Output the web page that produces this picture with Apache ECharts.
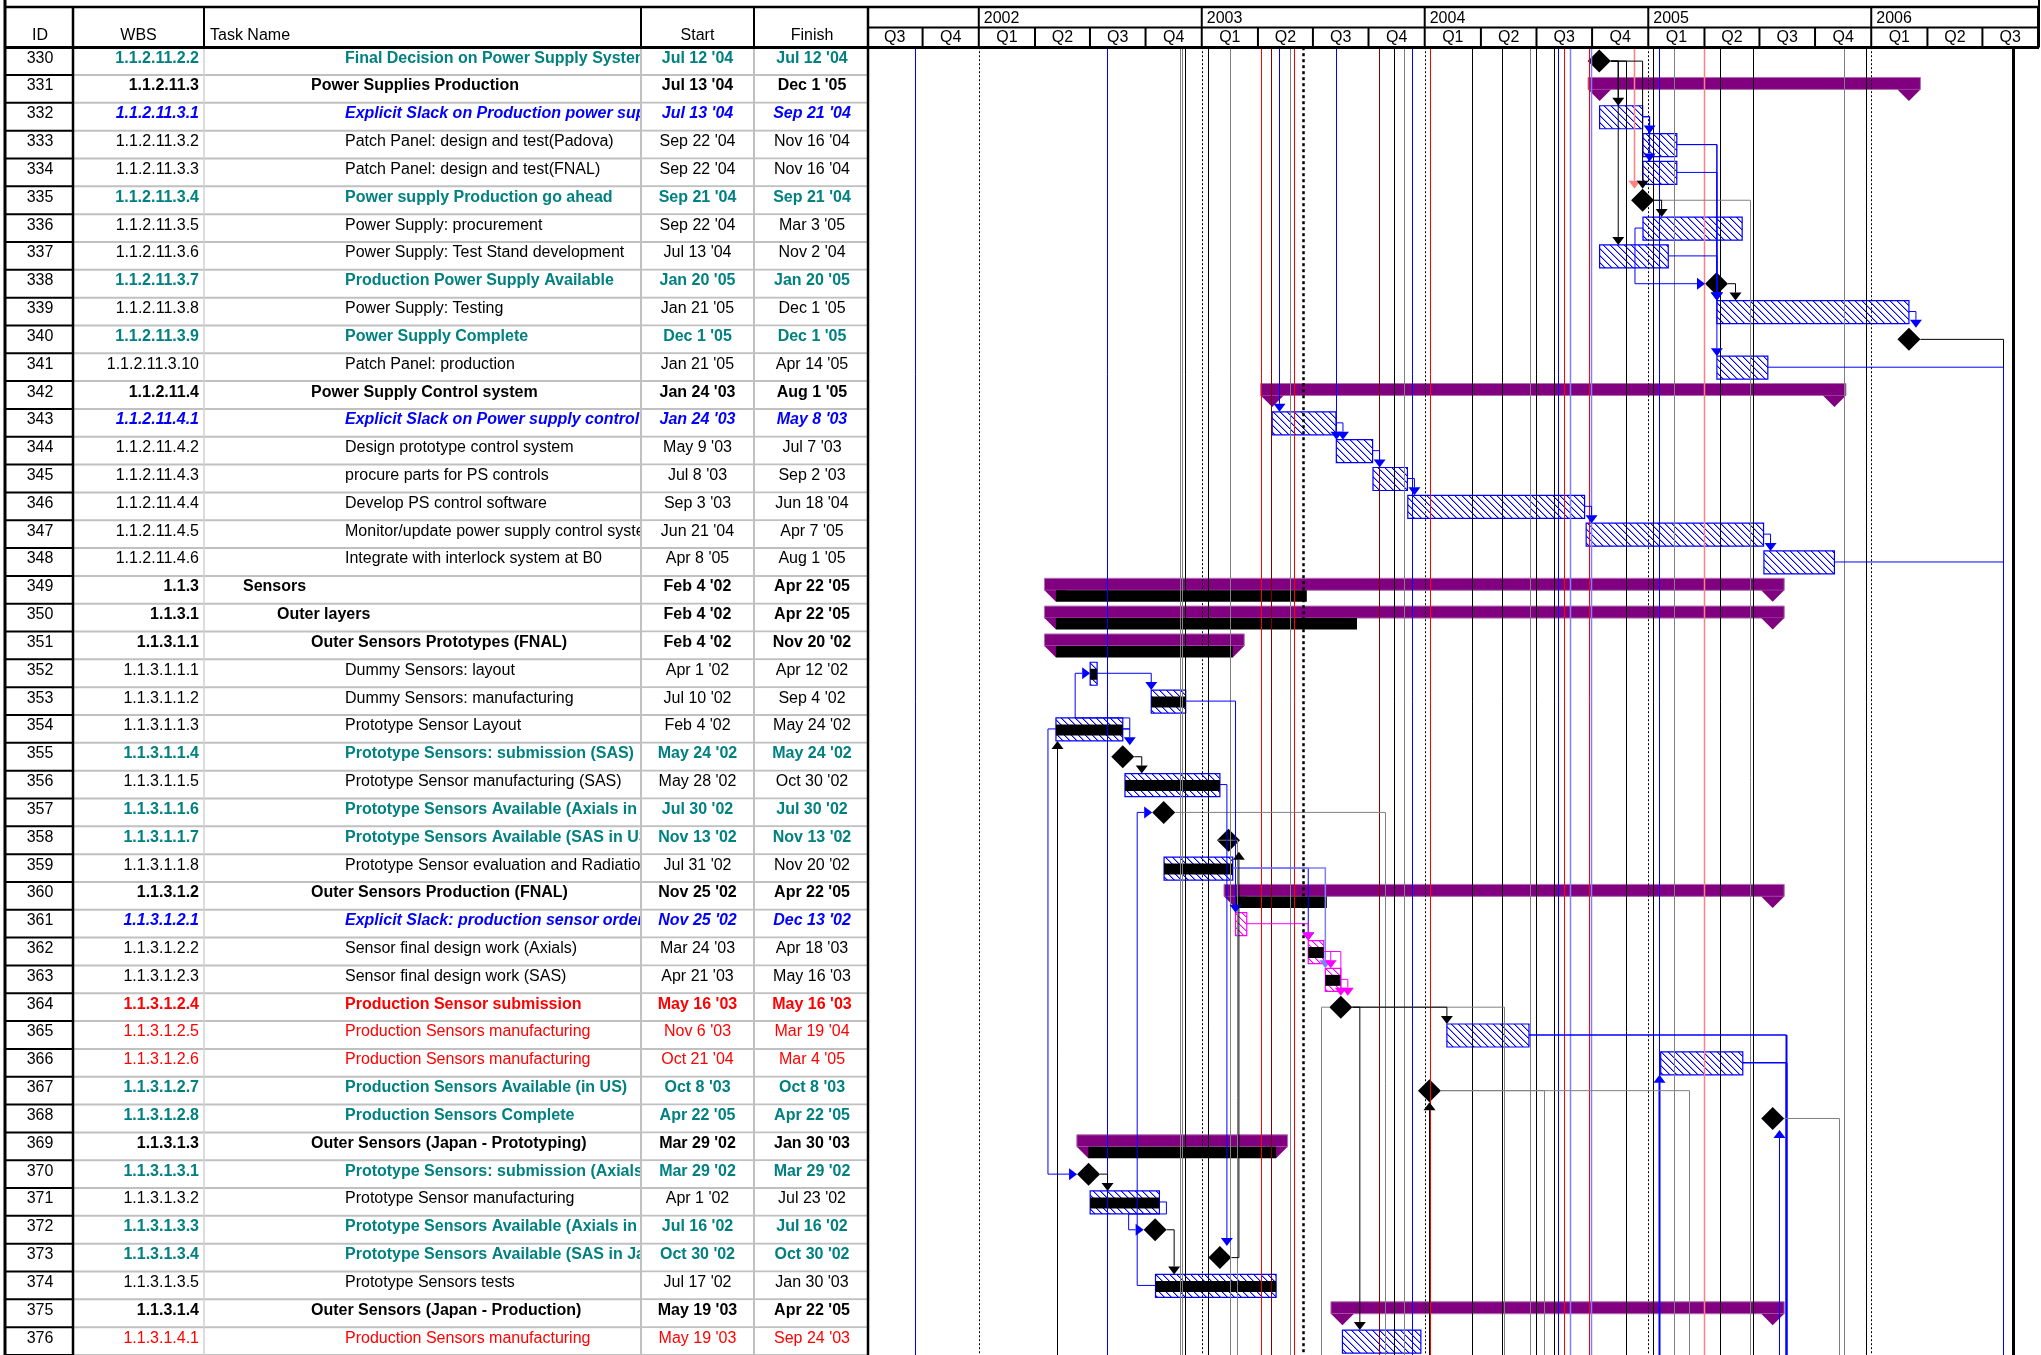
<!DOCTYPE html>
<html><head><meta charset="utf-8">
<script src="https://cdn.jsdelivr.net/npm/echarts@6/dist/echarts.min.js"></script>
<style>html,body{margin:0;padding:0;background:#fff}#c{width:2041px;height:1355px}</style>
</head><body><div id="c"></div>
<script>
// ---------------- DATA ----------------
const rowIds = [330,331,332,333,334,335,336,337,338,339,340,341,342,343,344,345,346,347,348,349,350,351,352,353,354,355,356,357,358,359,360,361,362,363,364,365,366,367,368,369,370,371,372,373,374,375,376];
const wbsCodes = ['1.1.2.11.2.2','1.1.2.11.3','1.1.2.11.3.1','1.1.2.11.3.2','1.1.2.11.3.3','1.1.2.11.3.4','1.1.2.11.3.5','1.1.2.11.3.6','1.1.2.11.3.7','1.1.2.11.3.8','1.1.2.11.3.9','1.1.2.11.3.10','1.1.2.11.4','1.1.2.11.4.1','1.1.2.11.4.2','1.1.2.11.4.3','1.1.2.11.4.4','1.1.2.11.4.5','1.1.2.11.4.6','1.1.3','1.1.3.1','1.1.3.1.1','1.1.3.1.1.1','1.1.3.1.1.2','1.1.3.1.1.3','1.1.3.1.1.4','1.1.3.1.1.5','1.1.3.1.1.6','1.1.3.1.1.7','1.1.3.1.1.8','1.1.3.1.2','1.1.3.1.2.1','1.1.3.1.2.2','1.1.3.1.2.3','1.1.3.1.2.4','1.1.3.1.2.5','1.1.3.1.2.6','1.1.3.1.2.7','1.1.3.1.2.8','1.1.3.1.3','1.1.3.1.3.1','1.1.3.1.3.2','1.1.3.1.3.3','1.1.3.1.3.4','1.1.3.1.3.5','1.1.3.1.4','1.1.3.1.4.1'];
const taskNames = ['Final Decision on Power Supply System','Power Supplies Production','Explicit Slack on Production power supply','Patch Panel: design and test(Padova)','Patch Panel: design and test(FNAL)','Power supply Production go ahead','Power Supply: procurement','Power Supply: Test Stand development','Production Power Supply Available','Power Supply: Testing','Power Supply Complete','Patch Panel: production','Power Supply Control system','Explicit Slack on Power supply control','Design prototype control system','procure parts for PS controls','Develop PS control software','Monitor/update power supply control system','Integrate with interlock system at B0','Sensors','Outer layers','Outer Sensors Prototypes (FNAL)','Dummy Sensors: layout','Dummy Sensors: manufacturing','Prototype Sensor Layout','Prototype Sensors: submission (SAS)','Prototype Sensor manufacturing (SAS)','Prototype Sensors Available (Axials in US)','Prototype Sensors Available (SAS in US)','Prototype Sensor evaluation and Radiation','Outer Sensors Production (FNAL)','Explicit Slack: production sensor order','Sensor final design work (Axials)','Sensor final design work (SAS)','Production Sensor submission','Production Sensors manufacturing','Production Sensors manufacturing','Production Sensors Available (in US)','Production Sensors Complete','Outer Sensors (Japan - Prototyping)','Prototype Sensors: submission (Axials)','Prototype Sensor manufacturing','Prototype Sensors Available (Axials in Japan)','Prototype Sensors Available (SAS in Japan)','Prototype Sensors tests','Outer Sensors (Japan - Production)','Production Sensors manufacturing'];
const startText = ["Jul 12 '04","Jul 13 '04","Jul 13 '04","Sep 22 '04","Sep 22 '04","Sep 21 '04","Sep 22 '04","Jul 13 '04","Jan 20 '05","Jan 21 '05","Dec 1 '05","Jan 21 '05","Jan 24 '03","Jan 24 '03","May 9 '03","Jul 8 '03","Sep 3 '03","Jun 21 '04","Apr 8 '05","Feb 4 '02","Feb 4 '02","Feb 4 '02","Apr 1 '02","Jul 10 '02","Feb 4 '02","May 24 '02","May 28 '02","Jul 30 '02","Nov 13 '02","Jul 31 '02","Nov 25 '02","Nov 25 '02","Mar 24 '03","Apr 21 '03","May 16 '03","Nov 6 '03","Oct 21 '04","Oct 8 '03","Apr 22 '05","Mar 29 '02","Mar 29 '02","Apr 1 '02","Jul 16 '02","Oct 30 '02","Jul 17 '02","May 19 '03","May 19 '03"];
const finishText = ["Jul 12 '04","Dec 1 '05","Sep 21 '04","Nov 16 '04","Nov 16 '04","Sep 21 '04","Mar 3 '05","Nov 2 '04","Jan 20 '05","Dec 1 '05","Dec 1 '05","Apr 14 '05","Aug 1 '05","May 8 '03","Jul 7 '03","Sep 2 '03","Jun 18 '04","Apr 7 '05","Aug 1 '05","Apr 22 '05","Apr 22 '05","Nov 20 '02","Apr 12 '02","Sep 4 '02","May 24 '02","May 24 '02","Oct 30 '02","Jul 30 '02","Nov 13 '02","Nov 20 '02","Apr 22 '05","Dec 13 '02","Apr 18 '03","May 16 '03","May 16 '03","Mar 19 '04","Mar 4 '05","Oct 8 '03","Apr 22 '05","Jan 30 '03","Mar 29 '02","Jul 23 '02","Jul 16 '02","Oct 30 '02","Jan 30 '03","Apr 22 '05","Sep 24 '03"];
// t teal milestone, b bold summary, i blue italic slack, n normal, R red bold, r red
const textStyleKey = ['t','b','i','n','n','t','n','n','t','n','t','n','b','i','n','n','n','n','n','b','b','b','n','n','n','t','n','t','t','n','b','i','n','n','R','r','r','t','t','b','t','n','t','t','n','b','r'];
const percentComplete = [0,0,0,0,0,0,0,0,0,0,0,0,0,0,0,0,0,0,0,35,42,100,100,100,100,0,100,0,0,100,17,0,100,100,0,0,0,0,0,100,0,100,0,0,100,0,0];
const magentaRows = [361,362,363];

const yearLabels = ['','2002','2003','2004','2005','2006'];
const yearStarts = ['2001-04-01','2001-10-01','2002-10-01','2003-10-01','2004-10-01','2005-10-01'];
const quarterLabels = ['Q3','Q4','Q1','Q2','Q3','Q4','Q1','Q2','Q3','Q4','Q1','Q2','Q3','Q4','Q1','Q2','Q3','Q4','Q1','Q2','Q3'];
const quarterStarts = ['2001-04-01','2001-07-01','2001-10-01','2002-01-01','2002-04-01','2002-07-01','2002-10-01','2003-01-01','2003-04-01','2003-07-01','2003-10-01','2004-01-01','2004-04-01','2004-07-01','2004-10-01','2005-01-01','2005-04-01','2005-07-01','2005-10-01','2006-01-01','2006-04-01'];
const timelineEnd = '2006-07-01';
const statusDate = '2003-03-15';

// dependency links between rows
const linkFrom  = [330,330,330,332,332,333,333,334,337,335,336,338,339,343,344,345,346,347,352,354,354,355,353,356,359,359,361,362,362,363,364,364,354,370,371,372,374,373];
const linkTo    = [332,337,335,333,334,339,341,339,339,336,338,339,340,344,345,346,347,348,353,355,352,356,361,373,362,363,362,363,364,364,365,376,370,371,372,374,357,358];
const linkType  = ['FS','FS','FS','FS','FS','FS','FS','FS','FS','FS','SS','FS','FS','FS','FS','FS','FS','FS','FS','FS','FS','FS','FS','FS','FS','FS','FS','FS','FS','FS','FS','FS','SS','FS','FS','FS','SS','FS'];
const linkColor = ['k','k','k','b','b','b','b','b','b','k','b','k','b','b','b','b','b','b','b','b','b','k','b','b','b','lb','m','m','m','m','k','k','b','k','b','k','b','k'];

// long link lines crossing the view (to tasks outside the visible rows)
const vlDates = ['2001-06-18','2002-04-29','2002-08-26','2002-08-30','2002-09-03','2002-10-11','2002-11-16','2003-01-06','2003-01-22','2003-02-04','2003-02-22','2003-03-01','2003-05-08','2003-07-18','2003-07-28','2003-08-11','2003-08-28','2003-09-11','2003-10-09','2003-12-18','2004-02-04','2004-02-07','2004-03-21','2004-03-31','2004-04-13','2004-04-29','2004-05-06','2004-05-16','2004-05-26','2004-06-26','2004-06-30','2004-08-25','2004-09-08','2004-10-08','2004-10-18','2004-10-18','2004-11-12','2004-12-06','2004-12-31','2005-01-26','2005-03-17','2005-03-22','2005-05-03','2005-05-15','2005-05-15','2005-08-10','2005-08-18','2005-09-22','2006-05-04','2006-05-05','2006-05-05','2006-05-21','2002-02-06','2003-04-14','2002-11-28','2003-10-08'];
const vlKind  = ['b','b','g','g','k','k','g','r','dr','b','g','r','b','dr','g','k','g','b','r','k','k','g','g','k','g','k','b','r','lb','r','lb','k','lr','k','b','B','g','g','lr','k','g','k','b','B','B','g','g','k','k','b','b','K','k','g','g','k'];
const vlFrom  = ['top','top','top','top','top','top','top','top','top','top','top','top','top','top',357,'top','top','top','top','top','top',364,'top','top',367,'top','top','top','top','top','top',330,'top','top','top','bottom','top',367,'top','top',335,'top','bottom',365,366,368,'top','top',340,341,348,'top','bottom',364,358,'bottom'];
const vlTo    = ['bottom','bottom','bottom','bottom','bottom','bottom','bottom','bottom','bottom',343,'bottom','bottom',344,'bottom','bottom','bottom','bottom','bottom','bottom','bottom','bottom','bottom','bottom','bottom','bottom','bottom','bottom','bottom','bottom','bottom','bottom','bottom',335,'bottom','bottom',366,'bottom','bottom','bottom','bottom','bottom','bottom',368,'bottom','bottom','bottom','bottom','bottom','bottom','bottom','bottom','bottom',354,'bottom','bottom',367];

// ---------------- HELPERS ----------------
const MON = {Jan:0,Feb:1,Mar:2,Apr:3,May:4,Jun:5,Jul:6,Aug:7,Sep:8,Oct:9,Nov:10,Dec:11};
const HOUR = 3600e3;
function parseIso(s){ const p = s.split('-').map(Number); return new Date(p[0], p[1]-1, p[2]).getTime(); }
function parseMs(s){ const m = s.match(/^(\w{3}) (\d+) '(\d\d)$/); return new Date(2000 + +m[3], MON[m[1]], +m[2]).getTime(); }
const N = rowIds.length;
const startT = startText.map(parseMs);
const finishT = finishText.map(parseMs);
const kinds = rowIds.map((id,i) => textStyleKey[i]==='b' ? 'sum' : (startText[i]===finishText[i] ? 'ms' : 'task'));
const rowIndex = {}; rowIds.forEach((id,i)=>rowIndex[id]=i);
const T0 = parseIso(quarterStarts[0]);
const T1 = parseIso(timelineEnd);

const FONT = '"Liberation Sans", Arial, sans-serif';
const TS = {
  t:{fill:'#008080', font:'bold 16px '+FONT},
  b:{fill:'#000000', font:'bold 16px '+FONT},
  i:{fill:'#0000ff', font:'italic bold 16px '+FONT},
  n:{fill:'#000000', font:'16px '+FONT},
  R:{fill:'#ff0000', font:'bold 16px '+FONT},
  r:{fill:'#ff0000', font:'16px '+FONT}
};
const LC = {k:['#000000',1], g:['#808080',1], b:['#0000ff',1], lb:['#8080ff',1.5], r:['#ff0000',1], lr:['#ff8080',1.5], dr:['#800000',1], B:['#0000ff',2], K:['#000000',3], m:['#ff00ff',1]};

function makeHatch(color){
  const n = 7, cv = document.createElement('canvas'); cv.width = n; cv.height = n;
  const g = cv.getContext('2d'); g.fillStyle = '#ffffff'; g.fillRect(0,0,n,n);
  g.fillStyle = color;
  for (let k=0;k<n;k++) g.fillRect(k,k,1,1);
  g.globalAlpha = 0.4;
  for (let k=0;k<n;k++) g.fillRect((k+1)%n,k,1,1);
  return cv;
}
const hatchBlue = makeHatch('#0000ff');
const hatchMag = makeHatch('#ff00ff');

// column layout of the sheet (pixels)
const COL = {left:5, id:73, wbs:204, name:641, start:754, finish:868, right:2039};

function geom(api, i){
  const c = api.coord([T0, i+0.5])[1];
  const k = kinds[i];
  if (k==='ms'){ const x = api.coord([startT[i]+17*HOUR,0])[0]; return {k,c,x,s:x,e:x,left:x-11.5,right:x+11.5,top:c-11.5,bottom:c+11.5}; }
  const s = api.coord([startT[i]+8*HOUR,0])[0], e = api.coord([finishT[i]+17*HOUR,0])[0];
  if (k==='sum') return {k,c,s,e,x:s,left:s-11.5,right:e+11.5,top:c-11.5,bottom:c+12};
  return {k,c,s,e,x:s,left:s,right:e,top:c-11,bottom:c+12};
}
function tri(dir, x, y, col){
  let pts;
  if (dir==='d') pts=[[x-6,y-8],[x+6,y-8],[x,y]];
  else if (dir==='u') pts=[[x-6,y+8],[x+6,y+8],[x,y]];
  else pts=[[x-8,y-6],[x-8,y+6],[x,y]];
  return {type:'polygon', shape:{points:pts}, style:{fill:col, stroke:null}};
}
function pline(pts, col, lw, dash){ return {type:'polyline', shape:{points:pts}, style:{stroke:col, lineWidth:lw, fill:null, lineDash:dash||null}}; }

// ---------------- RENDERERS ----------------
function renderRow(params, api){
  const i = params.dataIndex;
  const top = api.coord([T0,i])[1], bot = api.coord([T0,i+1])[1];
  const ty = top + 11;
  const st = TS[textStyleKey[i]];
  const level = wbsCodes[i].split('.').length;
  const nx = 243 + (level-3)*34;
  const txt = (x, text, align, s) => ({type:'text', style:{x, y:ty, text, fill:s.fill, font:s.font, align, verticalAlign:'middle'}});
  return {type:'group', children:[
    txt((COL.left+COL.id)/2+1, String(rowIds[i]), 'center', TS.n),
    txt(COL.wbs-5, wbsCodes[i], 'right', st),
    txt(nx, taskNames[i], 'left', st),
    // cell backgrounds of Start/Finish hide the overflowing task name (clipping like the sheet)
    {type:'rect', shape:{x:COL.name+1, y:top+1, width:COL.finish-COL.name-2, height:bot-top-2}, style:{fill:'#ffffff'}},
    txt((COL.name+COL.start)/2, startText[i], 'center', st),
    txt((COL.start+COL.finish)/2+1, finishText[i], 'center', st),
    {type:'line', shape:{x1:COL.id, y1:bot, x2:COL.finish, y2:bot}, style:{stroke:'#c0c0c0', lineWidth:2}},
    {type:'line', shape:{x1:COL.left, y1:bot, x2:COL.id, y2:bot}, style:{stroke:'#000', lineWidth:2}}
  ]};
}
function renderQuarter(params, api){
  const i = params.dataIndex;
  const x0 = api.coord([parseIso(quarterStarts[i]),0])[0];
  const x1 = api.coord([i+1<quarterStarts.length ? parseIso(quarterStarts[i+1]) : T1, 0])[0];
  return {type:'group', children:[
    {type:'line', shape:{x1:x1, y1:27.5, x2:x1, y2:47.5}, style:{stroke:'#000', lineWidth:2}},
    {type:'text', style:{x:(x0+x1)/2, y:38, text:quarterLabels[i], fill:'#000', font:'16px '+FONT, align:'center', verticalAlign:'middle'}}
  ]};
}
function renderYear(params, api){
  const i = params.dataIndex;
  const x0 = api.coord([parseIso(yearStarts[i]),0])[0];
  const x1 = api.coord([i+1<yearStarts.length ? parseIso(yearStarts[i+1]) : T1, 0])[0];
  return {type:'group', children:[
    {type:'line', shape:{x1:x1, y1:7, x2:x1, y2:27.5}, style:{stroke:'#000', lineWidth:2}},
    {type:'text', style:{x:x0+5, y:18.5, text:yearLabels[i], fill:'#000', font:'16px '+FONT, align:'left', verticalAlign:'middle'}}
  ]};
}
function renderGridLine(params, api){
  const i = params.dataIndex;
  const isStatus = i >= yearStarts.length - 1;
  const t = isStatus ? parseIso(statusDate) : parseIso(yearStarts[i+1]);
  const x = Math.round(api.coord([t,0])[0]) + 0.5;
  const y0 = api.coord([T0,0])[1], y1 = api.coord([T0,N])[1];
  return pline([[x,y0],[x,y1]], '#000', isStatus ? 2.5 : 1, isStatus ? [3,3] : [2,2]);
}
function renderBar(params, api){
  const i = params.dataIndex;
  const G = geom(api, i);
  const ch = [];
  if (G.k==='ms'){
    ch.push({type:'polygon', shape:{points:[[G.x,G.c-11.5],[G.x+11.5,G.c],[G.x,G.c+11.5],[G.x-11.5,G.c]]}, style:{fill:'#000'}});
  } else if (G.k==='sum'){
    const purple = '#800080';
    ch.push({type:'rect', shape:{x:G.s-11.5, y:G.c-11.5, width:G.e-G.s+23, height:12}, style:{fill:purple, stroke:'#b070b0', lineWidth:1}});
    ch.push({type:'polygon', shape:{points:[[G.s-11.5,G.c+0.5],[G.s+11.5,G.c+0.5],[G.s,G.c+12]]}, style:{fill:purple}});
    ch.push({type:'polygon', shape:{points:[[G.e-11.5,G.c+0.5],[G.e+11.5,G.c+0.5],[G.e,G.c+12]]}, style:{fill:purple}});
    const p = percentComplete[i]/100;
    if (p>0) ch.push({type:'rect', shape:{x:G.s, y:G.c+0.5, width:(G.e-G.s)*p, height:11.5}, style:{fill:'#000'}});
  } else {
    const mag = magentaRows.indexOf(rowIds[i])>=0;
    ch.push({type:'rect', shape:{x:G.s, y:G.c-11, width:Math.max(G.e-G.s,2), height:23}, style:{fill:{image: mag?hatchMag:hatchBlue, repeat:'repeat'}, stroke: mag?'#ff00ff':'#0000ff', lineWidth:1.2}});
    const p = percentComplete[i]/100;
    if (p>0) ch.push({type:'rect', shape:{x:G.s, y:G.c-4.5, width:(G.e-G.s)*p, height:11}, style:{fill:'#000'}});
  }
  return {type:'group', children:ch};
}
function renderVLine(params, api){
  const i = params.dataIndex;
  const [col, lw] = LC[vlKind[i]];
  const x = Math.round(api.coord([parseIso(vlDates[i]),0])[0]) + 0.5;
  const yTop = api.coord([T0,0])[1], yBot = api.coord([T0,N])[1];
  const ch = [];
  let y1;
  const f = vlFrom[i], t = vlTo[i];
  if (f==='top') y1 = yTop; else if (f==='bottom') y1 = yBot;
  else { const G = geom(api, rowIndex[f]); y1 = G.c; const sx = x >= G.right ? G.right : G.left; ch.push(pline([[sx,G.c],[x,G.c]], col, Math.min(lw,1.5))); }
  let y2;
  if (t==='bottom') y2 = yBot; else if (t==='top') y2 = yTop;
  else {
    const G = geom(api, rowIndex[t]);
    if (y1 < G.c){ y2 = G.top-8; ch.push(tri('d', x, G.top, col)); }
    else { y2 = G.bottom+8; ch.push(tri('u', x, G.bottom, col)); }
  }
  ch.push(pline([[x,y1],[x,y2]], col, lw));
  return {type:'group', children:ch};
}
function renderLink(params, api){
  const i = params.dataIndex;
  const p = rowIndex[linkFrom[i]], s = rowIndex[linkTo[i]];
  const P = geom(api,p), S = geom(api,s);
  const [col, lw] = LC[linkColor[i]];
  let pts, arrow;
  if (linkType[i]==='SS'){
    const lx = Math.min(P.left-8, S.left-15);
    pts = [[P.left,P.c],[lx,P.c],[lx,S.c],[S.left-8,S.c]]; arrow = tri('r', S.left, S.c, col);
  } else {
    const exitX = P.right, anchor = P.k==='ms' ? P.x+19 : P.e+7;
    const sStart = S.k==='ms' ? S.x : S.s;
    if (s>p && sStart >= P.e-1){
      const ax = Math.max(sStart, anchor);
      pts = [[exitX,P.c],[ax,P.c],[ax,S.top-8]]; arrow = tri('d', ax, S.top, col);
    } else if (s<p && S.k==='ms' && Math.abs(S.x-anchor)<20){
      pts = [[exitX,P.c],[anchor,P.c],[anchor,S.bottom+8]]; arrow = tri('u', anchor, S.bottom, col);
    } else {
      const edge = s>p ? P.bottom : P.top, lx = S.left-15;
      pts = [[exitX,P.c],[anchor,P.c],[anchor,edge],[lx,edge],[lx,S.c],[S.left-8,S.c]]; arrow = tri('r', S.left, S.c, col);
    }
  }
  return {type:'group', children:[pline(pts, col, lw), arrow]};
}

// ---------------- CHART ----------------
const chart = echarts.init(document.getElementById('c'), null, {renderer:'canvas', width:2041, height:1355});
const idx = n => Array.from({length:n}, (_,k)=>[k]);
const base = {type:'custom', coordinateSystem:'cartesian2d', clip:false, silent:true, animation:false};
const hdrText = (x, text, align) => ({type:'text', z:20, style:{x, y:36, text, fill:'#000', font:'16px '+FONT, align, verticalAlign:'middle'}});
const gl = (x1,y1,x2,y2,stroke,lw) => ({type:'line', z:20, shape:{x1,y1,x2,y2}, style:{stroke, lineWidth:lw}, silent:true});

chart.setOption({
  animation:false,
  backgroundColor:'#ffffff',
  grid:{left:867, top:47.2, width:1171, height:1309, show:false},
  xAxis:{type:'time', min:T0, max:T1, show:false},
  yAxis:{type:'value', min:0, max:N, inverse:true, show:false},
  graphic:{elements:[
    gl(COL.wbs,47,COL.wbs,1355,'#d0d0d0',1.5),
    gl(COL.name,47,COL.name,1355,'#c0c0c0',2),
    gl(COL.start,47,COL.start,1355,'#c0c0c0',2),
    gl(COL.left,0,COL.left,1355,'#000',3),
    gl(COL.id,7,COL.id,1355,'#000',2.5),
    gl(COL.finish,7,COL.finish,1355,'#000',2.5),
    gl(COL.wbs,7,COL.wbs,47,'#000',2),
    gl(COL.name,7,COL.name,47,'#000',2),
    gl(COL.start,7,COL.start,47,'#000',2),
    gl(COL.right,0,COL.right,47.5,'#000',2),
    gl(COL.left,7,COL.right,7,'#000',2.5),
    gl(COL.finish,27.5,COL.right,27.5,'#000',2),
    gl(COL.left,47.5,COL.right,47.5,'#000',3),
    hdrText((COL.left+COL.id)/2+1,'ID','center'),
    hdrText((COL.id+COL.wbs)/2,'WBS','center'),
    hdrText(COL.wbs+6,'Task Name','left'),
    hdrText((COL.name+COL.start)/2,'Start','center'),
    hdrText((COL.start+COL.finish)/2+1,'Finish','center')
  ]},
  series:[
    Object.assign({}, base, {name:'rows', data:idx(N), renderItem:renderRow, z:2}),
    Object.assign({}, base, {name:'quarters', data:idx(quarterLabels.length), renderItem:renderQuarter, z:2}),
    Object.assign({}, base, {name:'years', data:idx(yearLabels.length), renderItem:renderYear, z:2}),
    Object.assign({}, base, {name:'bars', data:idx(N), renderItem:renderBar, z:3}),
    Object.assign({}, base, {name:'vlines', data:idx(vlDates.length), renderItem:renderVLine, z:4}),
    Object.assign({}, base, {name:'gridlines', data:idx(yearStarts.length), renderItem:renderGridLine, z:5}),
    Object.assign({}, base, {name:'links', data:idx(linkFrom.length), renderItem:renderLink, z:6})
  ]
});
</script></body></html>
